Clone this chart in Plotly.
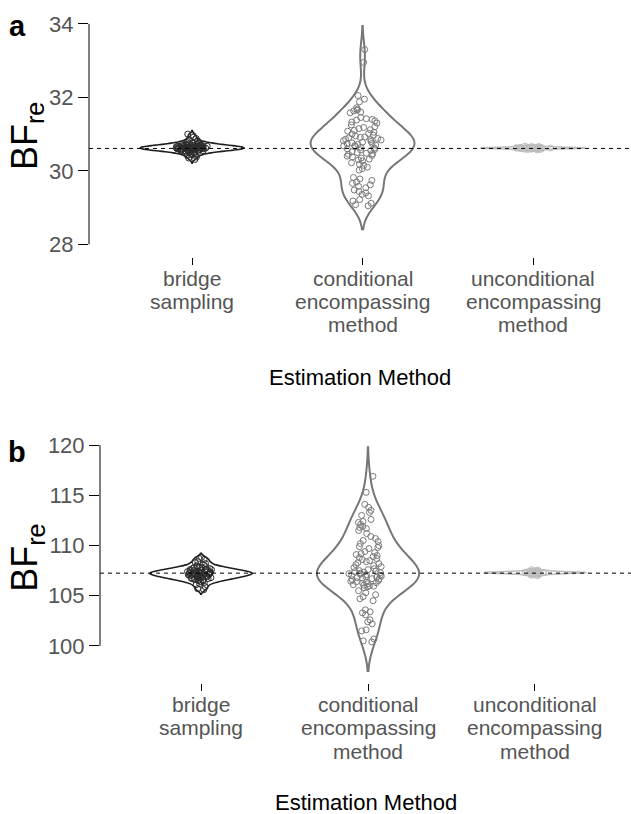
import plotly.graph_objects as go

# ---------------- data ----------------
methods = ["bridge sampling", "conditional encompassing method", "unconditional encompassing method"]
method_label_lines = [["bridge", "sampling"],
                      ["conditional", "encompassing", "method"],
                      ["unconditional", "encompassing", "method"]]

a_bridge = [30.62, 30.58, 30.66, 30.71, 30.55, 30.60, 30.64, 30.69, 30.52, 30.75, 30.63, 30.57, 30.67, 30.61,
            30.48, 30.80, 30.65, 30.59, 30.54, 30.72, 30.62, 30.68, 30.50, 30.77, 30.60, 30.63, 30.56, 30.70,
            30.45, 30.84, 30.64, 30.61, 30.58, 30.66, 30.53, 30.74, 30.62, 30.59, 30.67, 30.42, 30.88, 30.60,
            30.65, 30.57, 30.71, 30.51, 30.63, 30.78, 30.55, 30.68, 30.61, 30.38, 30.92, 30.64, 30.58, 30.69,
            30.47, 30.73, 30.62, 30.60, 30.66, 30.35, 30.96, 30.56, 30.67, 30.52, 30.76, 30.63, 30.59, 30.70,
            30.44, 30.82, 30.61, 30.65, 30.57, 30.31, 31.00, 30.68, 30.54, 30.72]
a_cond = [33.30, 32.95,
          32.05, 31.95, 31.88,
          31.72, 31.68, 31.65, 31.63, 31.60, 31.58,
          31.45, 31.42, 31.40, 31.38, 31.36, 31.33, 31.30,
          31.25, 31.20, 31.18, 31.15, 31.12, 31.10, 31.08, 31.05, 31.02,
          31.00, 30.97, 30.95, 30.92, 30.91, 30.90, 30.88, 30.86, 30.85, 30.84, 30.82, 30.80, 30.78, 30.76,
          30.75, 30.74,
          30.72, 30.70, 30.69, 30.68, 30.66, 30.64, 30.62, 30.60, 30.58, 30.57,
          30.55, 30.52, 30.50, 30.48, 30.47, 30.45, 30.42, 30.40, 30.38, 30.35, 30.32, 30.30, 30.27,
          30.22, 30.18, 30.15, 30.10, 30.06, 30.02,
          29.82, 29.78, 29.74, 29.70, 29.66, 29.62, 29.58, 29.54,
          29.48, 29.44, 29.40, 29.36, 29.32,
          29.22, 29.18, 29.12, 29.08, 29.05]
a_uncond = [30.62, 30.63, 30.61, 30.64, 30.60, 30.62, 30.65, 30.59, 30.63, 30.62, 30.61, 30.66, 30.58, 30.63,
            30.62, 30.64, 30.60, 30.61, 30.63, 30.67, 30.57, 30.62, 30.64, 30.61, 30.63, 30.60, 30.65, 30.62,
            30.59, 30.63, 30.62, 30.61, 30.64, 30.66, 30.58, 30.62, 30.63, 30.60, 30.61, 30.65]

b_bridge = [107.2, 107.5, 106.9, 107.8, 106.6, 107.3, 107.0, 107.6, 106.8, 108.0, 107.1, 107.4, 106.5, 107.9,
            107.2, 106.7, 107.7, 107.3, 106.4, 108.2, 107.0, 107.5, 106.9, 107.6, 107.1, 108.4, 106.3, 107.4,
            107.2, 106.8, 107.8, 106.6, 107.3, 108.6, 105.9, 107.1, 107.5, 106.9, 107.7, 107.0, 108.8, 105.7,
            107.4, 106.7, 107.2, 107.9, 106.5, 107.3, 107.6, 106.2, 108.1, 107.0, 107.4, 106.8, 105.6, 108.7,
            107.2, 107.5, 106.6, 107.8, 107.1, 106.9, 107.3, 106.1, 108.3, 107.0, 107.6, 106.7, 107.4, 107.2]
b_cond = [116.9, 115.3,
          114.1, 113.8, 113.5, 113.3, 113.0,
          112.6, 112.4, 112.3, 112.1, 111.9, 111.8, 111.7, 111.5, 111.2,
          110.9, 110.7, 110.5, 110.4, 110.2, 110.0, 109.9, 109.8, 109.7,
          109.4, 109.3, 109.2, 109.1, 109.0, 108.9, 108.8, 108.7, 108.6, 108.5, 108.4, 108.3, 108.2, 108.1,
          108.0, 107.9, 107.8, 107.7,
          107.6, 107.5, 107.45, 107.4, 107.35, 107.3, 107.25, 107.2, 107.15, 107.1, 107.05, 107.0, 106.95,
          106.9, 106.85, 106.8, 106.75,
          106.7, 106.65, 106.6, 106.5, 106.45, 106.4, 106.35, 106.3, 106.25, 106.2, 106.1, 106.05, 106.0,
          105.95, 105.9, 105.8,
          105.5, 105.3, 105.1, 104.9, 104.7, 104.5,
          103.6, 103.4, 103.3, 103.1,
          102.6, 102.4, 102.2,
          101.6, 101.5,
          100.7, 100.5, 100.4]
b_uncond = [107.3, 107.2, 107.4, 107.3, 107.1, 107.5, 107.3, 107.2, 107.4, 107.3, 107.0, 107.6, 107.3, 107.2,
            107.4, 107.35, 107.25, 107.3, 107.15, 107.45, 107.3, 107.2, 107.4, 107.3, 107.1, 107.5, 107.28,
            107.32, 107.22, 107.38, 107.3, 107.05, 107.55, 107.3, 107.25, 107.35, 107.2, 107.4, 107.3, 107.3]

a_ref = 30.61
b_ref = 107.25
a_yticks = [28, 30, 32, 34]
b_yticks = [100, 105, 110, 115, 120]
panel_letters = ["a", "b"]
x_title = "Estimation Method"
y_title = "BF<sub>re</sub>"

# ---------------- style ----------------
W, H = 631, 814
FONT = "Liberation Sans, Arial, Helvetica, sans-serif"
line_colors = ["#1e1e1e", "#767676", "#bdbdbd"]
point_colors = ["#2a2a2a", "#7a7a7a", "#bdbdbd"]
line_widths = [1.6, 2.0, 1.6]
bw_a = [0.05, 0.32, 0.012]
bw_b = [0.22, 1.45, 0.06]

def py(p):
    return 1 - p / H

panels = [
    dict(data=[a_bridge, a_cond, a_uncond], ref=a_ref, ticks=a_yticks, bw=bw_a,
         xa="x", ya="y", left=89, top=9.45, bottom=251, yrange=[27.65, 34.15],
         label_rows=[272.5, 296, 319.5], title_y=373, bf_y=128.5, letter_y=17),
    dict(data=[b_bridge, b_cond, b_uncond], ref=b_ref, ticks=b_yticks, bw=bw_b,
         xa="x2", ya="y2", left=100, top=438, bottom=682, yrange=[96.26, 120.3],
         label_rows=[703.5, 727, 750.5], title_y=802, bf_y=555, letter_y=448),
]

fig = go.Figure()
shapes, annotations = [], []
layout_axes = {}

for k, p in enumerate(panels):
    for i, vals in enumerate(p["data"]):
        fig.add_trace(go.Violin(
            x=[methods[i]] * len(vals), y=vals, xaxis=p["xa"], yaxis=p["ya"],
            name=methods[i], showlegend=False,
            line=dict(color=line_colors[i], width=line_widths[i]),
            fillcolor="rgba(0,0,0,0)",
            points="all", pointpos=0, jitter=0.38,
            marker=dict(symbol="circle-open", size=6, color=point_colors[i], line=dict(width=1)),
            bandwidth=p["bw"][i], spanmode="soft",
            scalemode="width", width=0.61,
            box_visible=False, meanline_visible=False, hoveron="points",
        ))
    xs = "" if k == 0 else "2"
    layout_axes["xaxis" + xs] = dict(
        domain=[p["left"] / W, 1], range=[-0.605, 2.575], type="category",
        categoryorder="array", categoryarray=methods, anchor=p["ya"],
        showticklabels=False, ticks="outside", ticklen=7, tickwidth=1, tickcolor="black",
        showgrid=False, zeroline=False, showline=False, fixedrange=True)
    layout_axes["yaxis" + xs] = dict(
        domain=[py(p["bottom"]), py(p["top"])], range=p["yrange"], anchor=p["xa"],
        tickmode="array", tickvals=p["ticks"], ticks="outside", ticklen=10, tickwidth=1,
        tickcolor="black", tickfont=dict(family=FONT, size=22, color="#555555"),
        showgrid=False, zeroline=False, showline=False, fixedrange=True)
    shapes.append(dict(type="line", xref=p["xa"] + " domain", x0=0, x1=1, yref=p["ya"],
                       y0=p["ref"], y1=p["ref"], line=dict(color="black", width=1, dash="4px,4px"),
                       layer="above"))
    shapes.append(dict(type="line", xref=p["xa"] + " domain", x0=0, x1=0, yref=p["ya"],
                       y0=p["ticks"][0], y1=p["ticks"][-1], line=dict(color="black", width=1)))
    for i, lines in enumerate(method_label_lines):
        for j, txt in enumerate(lines):
            annotations.append(dict(text=txt, x=methods[i], xref=p["xa"], y=py(p["label_rows"][j]),
                                    yref="paper", showarrow=False, xanchor="center", yanchor="middle",
                                    font=dict(family=FONT, size=21, color="#555555")))
    annotations.append(dict(text=x_title, x=(p["left"] + W) / 2 / W, xref="paper", y=py(p["title_y"]),
                            yref="paper", showarrow=False, xanchor="center", yanchor="middle",
                            font=dict(family=FONT, size=22, color="black")))
    annotations.append(dict(text=y_title, x=27 / W, xref="paper", y=py(p["bf_y"]), yref="paper",
                            showarrow=False, xanchor="center", yanchor="middle", textangle=-90,
                            font=dict(family=FONT, size=36, color="black")))
    annotations.append(dict(text="<b>" + panel_letters[k] + "</b>", x=17 / W, xref="paper",
                            y=py(p["letter_y"]), yref="paper", showarrow=False, xanchor="center",
                            yanchor="middle", font=dict(family=FONT, size=29, color="black")))

fig.update_layout(
    width=W, height=H, margin=dict(l=0, r=0, t=0, b=0),
    paper_bgcolor="white", plot_bgcolor="white",
    violinmode="overlay", showlegend=False,
    shapes=shapes, annotations=annotations,
    font=dict(family=FONT),
    **layout_axes,
)

fig.write_html(
    "out.html",
    config={"displayModeBar": False},
    post_script=("document.body.style.margin='0';document.body.style.overflow='hidden';"
                 "var gd=document.getElementById('{plot_id}');gd.style.position='absolute';"
                 "gd.style.top='0px';gd.style.left='0px';"),
)
